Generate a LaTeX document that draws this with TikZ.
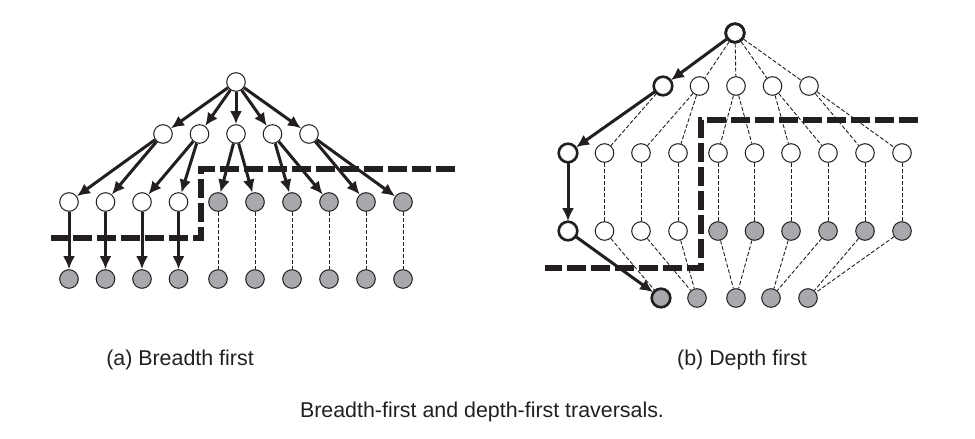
\documentclass[tikz,border=0pt]{standalone}
\usepackage{fontspec}
\setmainfont{Liberation Sans}
\usepackage{tikz}
\usetikzlibrary{arrows.meta}
\definecolor{leaf}{HTML}{A8A9AD}
\definecolor{ink}{HTML}{231F20}
\tikzset{
  vis/.style={circle,draw=ink,line width=0.5pt,fill=white,minimum size=9.3pt,inner sep=0pt},
  done/.style={vis,fill=leaf},
  cur/.style={line width=1.3pt},
  tree/.style={-{Latex[length=6.5pt,width=6pt]},line width=1.5pt,draw=ink},
  skip/.style={dash pattern=on 2pt off 1pt,line width=0.45pt,draw=ink},
  frontier/.style={line width=2.8pt,dash pattern=on 9.5pt off 2.5pt,draw=ink,line join=miter},
  legend/.style={font=\fontsize{10.7}{12}\selectfont,text=ink,inner sep=0pt},
}
\begin{document}
\begin{tikzpicture}[x=0.5pt,y=-0.5pt]
  \useasboundingbox (0,0) rectangle (975,439);
  % (a) breadth first
  \node[vis] (bfs) at (236,82) {};
  \foreach \i/\x in {0/163,1/199.5,2/236,3/272.5,4/309}
    \node[vis] (bfs-1-\i) at (\x,134) {};
  \foreach \i/\x in {0/69,1/105.5,2/142,3/178.5}
    \node[vis] (bfs-2-\i) at (\x,202) {};
  \foreach \i/\x in {4/218,5/255,6/292,7/329,8/366,9/403}
    \node[done] (bfs-2-\i) at (\x,202) {};
  \foreach \i/\x in {0/69,1/105.5,2/142,3/178.5,4/218,5/255,6/292,7/329,8/366,9/403}
    \node[done] (bfs-3-\i) at (\x,279) {};
  \foreach \i in {0,...,4} \draw[tree] (bfs) -- (bfs-1-\i);
  \foreach \i in {0,...,9}{
    \pgfmathtruncatemacro\p{\i/2}
    \draw[tree] (bfs-1-\p) -- (bfs-2-\i);
  }
  \foreach \i in {0,...,3} \draw[tree] (bfs-2-\i) -- (bfs-3-\i);
  \foreach \i in {4,...,9} \draw[skip] (bfs-2-\i) -- (bfs-3-\i);
  \draw[frontier] (455,169) -| (201,238) -- (51,238);
  \node[legend] (capa) at (180,360) {(a) Breadth first};

  % (b) depth first
  \node[vis,cur] (dfs) at (735,33) {};
  \foreach \i/\x in {0/663,1/699.5,2/736,3/772.5,4/809}
    \node[vis] (dfs-1-\i) at (\x,86) {};
  \foreach \i/\x in {0/568,1/604.5,2/641,3/678,4/718,5/754.5,6/791,7/828,8/865,9/902}{
    \node[vis] (dfs-2-\i) at (\x,153) {};
    \ifnum\i<4 \node[vis] (dfs-3-\i) at (\x,231) {};
    \else \node[done] (dfs-3-\i) at (\x,231) {}; \fi
  }
  \foreach \i/\x in {0/661,1/697,2/736,3/771,4/808}
    \node[done] (dfs-4-\i) at (\x,298) {};
  \foreach \n in {dfs,dfs-1-0,dfs-2-0,dfs-3-0,dfs-4-0}
    \node[circle,draw=ink,cur,minimum size=9.3pt,inner sep=0pt] at (\n) {};
  \draw[tree] (dfs) -- (dfs-1-0);
  \draw[tree] (dfs-1-0) -- (dfs-2-0);
  \draw[tree] (dfs-2-0) -- (dfs-3-0);
  \draw[tree] (dfs-3-0) -- (dfs-4-0);
  \foreach \i in {1,...,4} \draw[skip] (dfs) -- (dfs-1-\i);
  \foreach \i in {1,...,9}{
    \pgfmathtruncatemacro\p{\i/2}
    \draw[skip] (dfs-1-\p) -- (dfs-2-\i);
    \draw[skip] (dfs-2-\i) -- (dfs-3-\i);
    \draw[skip] (dfs-3-\i) -- (dfs-4-\p);
  }
  \draw[frontier] (918,120) -| (701,268) -- (545,268);
  \node[legend] (capb) at (742,360) {(b) Depth first};

  \node[legend] (caption) at (482,412) {Breadth-first and depth-first traversals.};
\end{tikzpicture}
\end{document}
